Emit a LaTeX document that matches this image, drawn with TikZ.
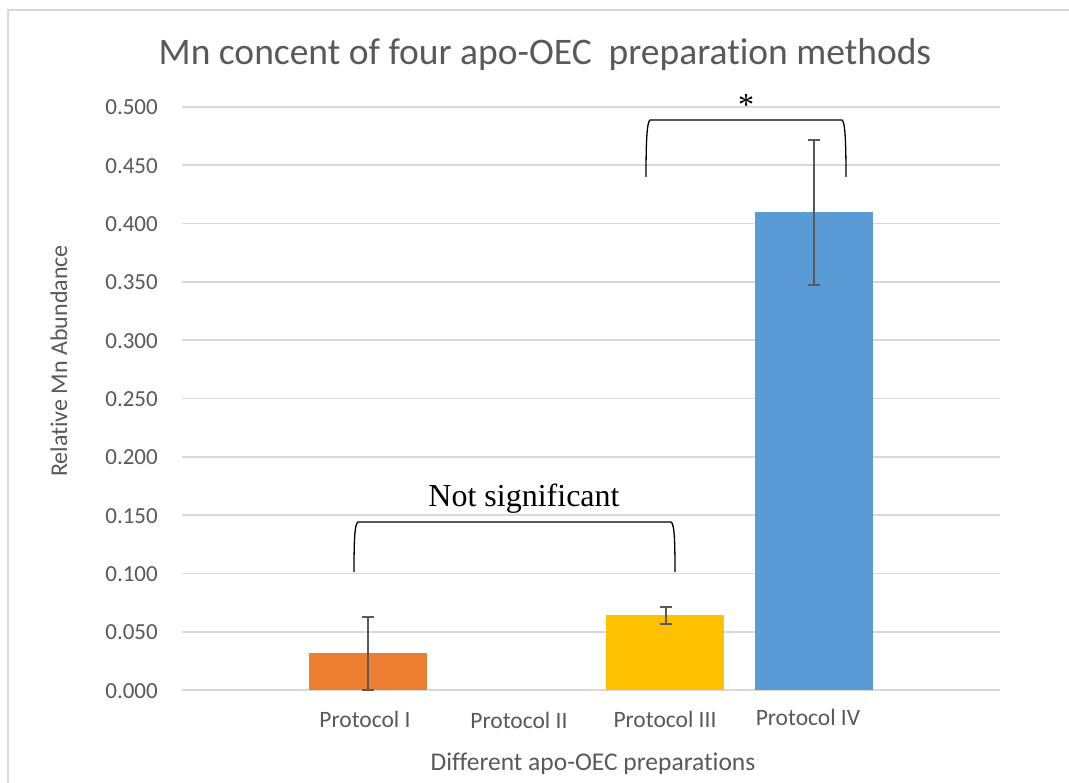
\documentclass[tikz,border=0pt]{standalone}
\usepackage{fontspec}
\setmainfont[Ligatures={CommonOff,ContextualOff,RequiredOff}]{Carlito}
\newfontfamily\tnr{Liberation Serif}
\definecolor{txtgray}{HTML}{595959}
\definecolor{gridgray}{HTML}{D9D9D9}
\definecolor{barorange}{HTML}{ED7D31}
\definecolor{baryellow}{HTML}{FFC000}
\definecolor{barblue}{HTML}{5B9BD5}
\definecolor{errgray}{HTML}{595959}
\tikzset{
  gridline/.style={draw=gridgray, line width=1.6pt},
  ticklbl/.style={anchor=base east, inner sep=0pt, text=txtgray, font=\fontsize{23}{26}\selectfont},
  catlbl/.style={anchor=base, inner sep=0pt, text=txtgray, font=\fontsize{23.5}{26}\selectfont},
  axtitle/.style={anchor=base, inner sep=0pt, text=txtgray, font=\fontsize{25.5}{28}\selectfont},
  errbar/.style={draw=errgray, line width=2pt},
  bracketline/.style={draw=black, line width=1.3pt},
  serifnote/.style={anchor=base, inner sep=0pt, text=black, font=\tnr\fontsize{32}{35}\selectfont}
}
\begin{document}
\begin{tikzpicture}[x=1pt, y=-1pt]
\path[use as bounding box, clip] (0,0) rectangle (1069,783);
\fill[white] (0,0) rectangle (1069,783);
% chart frame
\draw[draw=gridgray, line width=1.6pt] (8,10) rectangle (1090,800);
% title
\node[anchor=base, inner sep=0pt, text=txtgray, font=\fontsize{37.5}{41}\selectfont] (title) at (545,65) {Mn concent of four apo-OEC\ \ preparation methods};
% gridlines and tick labels
\foreach \v/\lbl [count=\i] in {0/0.000,1/0.050,2/0.100,3/0.150,4/0.200,5/0.250,6/0.300,7/0.350,8/0.400,9/0.450,10/0.500}{
  \pgfmathsetmacro{\yy}{690-58.3*\v}
  \draw[gridline] (182,\yy) -- (1000,\yy);
  \node[ticklbl] (tick\i) at (158,\yy+8) {\lbl};
}
% bars
\fill[barorange] (309,653) rectangle (427,690);
\fill[baryellow] (606,615) rectangle (724,690);
\fill[barblue] (755,212) rectangle (873,690);
% error bars
\coordinate (e1t) at (368,617); \coordinate (e1b) at (368,690);
\coordinate (e3t) at (666,607); \coordinate (e3b) at (666,624);
\coordinate (e4t) at (814,140); \coordinate (e4b) at (814,285);
\foreach \e in {e1,e3,e4}{
  \draw[errbar] (\e t) -- (\e b);
  \draw[errbar] ([xshift=-6pt]\e t) -- ([xshift=6pt]\e t);
  \draw[errbar] ([xshift=-6pt]\e b) -- ([xshift=6pt]\e b);
}
% category labels
\node[catlbl] (c1) at (365,727) {Protocol I};
\node[catlbl] (c2) at (519,728) {Protocol II};
\node[catlbl] (c3) at (665,727) {Protocol III};
\node[catlbl] (c4) at (808,725) {Protocol IV};
% axis titles
\node[axtitle] (xtitle) at (593,770) {Different apo-OEC preparations};
\node[axtitle, rotate=90, font=\fontsize{24}{28}\selectfont] (ytitle) at (67,361) {Relative Mn Abundance};
% brackets
\draw[bracketline] (354,572) .. controls (354,535) and (355,524) .. (358,522) -- (671,522) .. controls (674,524) and (675,535) .. (675,572);
\node[serifnote] (ns) at (524,507) {Not significant};
\draw[bracketline] (646,177) .. controls (646,140) and (647,122) .. (650,120) -- (842,120) .. controls (845,122) and (846,140) .. (846,177);
\node[serifnote] (star) at (746,116) {*};
\end{tikzpicture}
\end{document}
